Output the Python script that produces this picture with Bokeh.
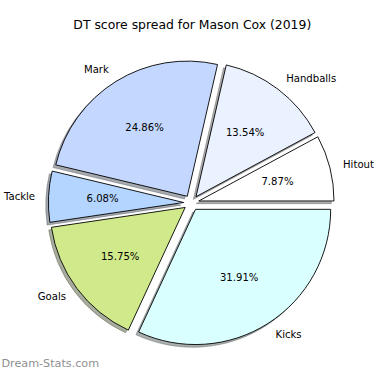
import math
from bokeh.plotting import figure
from bokeh.models import Range1d, ColumnDataSource
from bokeh.core.properties import value
from bokeh.embed import file_html
from bokeh.resources import INLINE

# ---- data ----
title = "DT score spread for Mason Cox (2019)"
categories = ["Hitout", "Handballs", "Mark", "Tackle", "Goals", "Kicks"]
percentages = [7.87, 13.54, 24.86, 6.08, 15.75, 31.91]
colors = ["#ffffff", "#eaf1ff", "#c4d8ff", "#b3d5ff", "#d0ea8b", "#d9ffff"]
watermark = "Dream-Stats.com"

# ---- layout (reference px -> pie units, radius = 1) ----
CX, CY, R = 193.0, 211.0, 141.0
EXPLODE = 0.057
SHADOW = 0.02
W = H = 374
SHIFT = 6
FONT = value("DejaVu Sans")

def px(x):
    return (x - CX) / R

def py(y):
    return (CY - y) / R

p = figure(width=W, height=H, output_backend="svg", toolbar_location=None,
           x_range=Range1d(px(-SHIFT), px(390 - SHIFT)), y_range=Range1d(py(390), py(0)),
           min_border=0)
p.axis.visible = False
p.xgrid.visible = False
p.ygrid.visible = False
p.outline_line_color = None
p.background_fill_color = "white"
p.border_fill_color = "white"

total = sum(percentages)
starts, ends, xs, ys, mids = [], [], [], [], []
acc = 0.0
for v in percentages:
    a0 = 2 * math.pi * acc / total
    acc += v
    a1 = 2 * math.pi * acc / total
    m = (a0 + a1) / 2
    starts.append(a0)
    ends.append(a1)
    mids.append(m)
    xs.append(EXPLODE * math.cos(m))
    ys.append(EXPLODE * math.sin(m))

def shade(c):
    r, g, b = int(c[1:3], 16), int(c[3:5], 16), int(c[5:7], 16)
    return "#%02x%02x%02x" % (int(r * 0.3), int(g * 0.3), int(b * 0.3))

src = ColumnDataSource(dict(x=xs, y=ys, s=starts, e=ends, c=colors,
                            sx=[x - SHADOW for x in xs], sy=[y - SHADOW for y in ys],
                            sc=[shade(c) for c in colors]))

# shadows
p.wedge(x="sx", y="sy", radius=1.0, start_angle="s", end_angle="e",
        direction="anticlock", fill_color="sc", fill_alpha=0.45,
        line_color="sc", line_alpha=0.45, line_width=0.8, source=src)
# slices
p.wedge(x="x", y="y", radius=1.0, start_angle="s", end_angle="e",
        direction="anticlock", fill_color="c", line_color="black",
        line_width=0.9, source=src)

# category labels
lx, ly, la = [], [], []
for x, y, m in zip(xs, ys, mids):
    tx = x + 1.1 * math.cos(m)
    ty = y + 1.1 * math.sin(m)
    lx.append(tx)
    ly.append(ty)
    la.append("left" if tx > 0 else "right")
p.text(x=lx, y=ly, text=categories, text_align=la, text_baseline="middle",
       text_font=FONT, text_font_size="10.1px", text_color="black")

# percent labels
pcx = [x + 0.6 * math.cos(m) for x, m in zip(xs, mids)]
pcy = [y + 0.6 * math.sin(m) for y, m in zip(ys, mids)]
pct = ["%.2f%%" % (100 * v / total) for v in percentages]
p.text(x=pcx, y=pcy, text=pct, text_align="center", text_baseline="middle",
       text_font=FONT, text_font_size="10.1px", text_color="black")

# title
p.text(x=[px(194)], y=[py(25)], text=[title], text_align="center",
       text_baseline="middle", text_font=FONT, text_font_size="12.4px",
       text_color="black")

# watermark
p.text(x=[px(-SHIFT + 1)], y=[py(379)], text=[watermark], text_align="left",
       text_baseline="middle", text_font=FONT, text_font_size="11.2px",
       text_color="#8f8f8f")

open("out.html", "w").write(file_html(p, INLINE))
